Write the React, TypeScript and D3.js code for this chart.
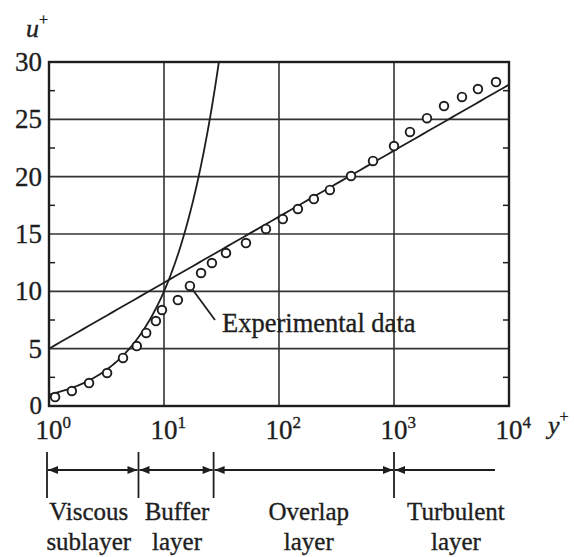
import React from 'react';
import * as d3 from 'd3';

// ---- data ----
const yPlusData = [1.13, 1.58, 2.23, 3.2, 4.4, 5.8, 7.0, 8.5, 9.6, 13.2, 16.8, 21, 26.1, 34.6, 51.6, 77, 108, 146, 201, 277, 423, 657, 1000, 1377, 1936, 2722, 3900, 5370, 7710];
const uPlusData = [0.78, 1.31, 2.0, 2.88, 4.19, 5.23, 6.37, 7.41, 8.37, 9.24, 10.47, 11.6, 12.47, 13.34, 14.21, 15.44, 16.3, 17.18, 18.05, 18.84, 20.06, 21.37, 22.67, 23.9, 25.1, 26.16, 26.95, 27.64, 28.25];
const xTickExponents = [0, 1, 2, 3, 4];
const xGridValues = [10, 100, 1000];
const yTickValues = [0, 5, 10, 15, 20, 25, 30];
const yGridValues = [5, 10, 15, 20, 25];
const yMinorTicks = [2.5, 7.5, 12.5, 17.5, 22.5, 27.5];
const kappa = 0.4;
const logLawB = 5.0;
const viscousMax = 30;
const regionBounds = [1, 6, 27, 1000];
const regionEnd = 7700;
const regionLabels = [
  ['Viscous', 'sublayer'],
  ['Buffer', 'layer'],
  ['Overlap', 'layer'],
  ['Turbulent', 'layer'],
];
const annotatedIndex = 10;
const annotationText = 'Experimental data';

// ---- layout ----
const W = 574, H = 557;
const L = 49, R = 509, T = 62, Bm = 406;
const FONT = '"Liberation Serif", "Times New Roman", serif';
const INK = '#1e1e1e';
const labelOffsets = [-5, 1, 5, 11];
const TS = 0.35; // text stroke to mimic heavier print

export default function App() {
  const x = d3.scaleLog().domain([1, 1e4]).range([L, R]);
  const y = d3.scaleLinear().domain([0, 30]).range([Bm, T]);

  const line = d3.line<[number, number]>().x(d => x(d[0])).y(d => y(d[1]));
  const logs = d3.range(0, 1.0001, 0.01).map(t => Math.pow(viscousMax, t));
  const viscous = line(logs.map(v => [v, v] as [number, number]));
  const logSamples = d3.range(0, 4.0001, 0.05).map(t => Math.pow(10, t));
  const logLaw = line(logSamples.map(v => [v, (1 / kappa) * Math.log(v) + logLawB] as [number, number]));

  const ann = [x(yPlusData[annotatedIndex]), y(uPlusData[annotatedIndex])];

  const arrowY = 470;
  const segs = regionBounds.map((b, i) => [x(b), i < regionBounds.length - 1 ? x(regionBounds[i + 1]) : x(regionEnd)]);
  const ah = 10, aw = 4;

  const textProps = { fill: INK, stroke: INK, strokeWidth: TS };

  return (
    <svg width={W} height={H} style={{ position: 'absolute', left: 0, top: 0, background: '#fff' }} fontFamily={FONT}>
      <rect x={0} y={0} width={W} height={H} fill="#fff" />
      {/* grid */}
      {yGridValues.map(v => (
        <line key={'gy' + v} x1={L} x2={R} y1={y(v)} y2={y(v)} stroke="#333" strokeWidth={1.6} />
      ))}
      {xGridValues.map(v => (
        <line key={'gx' + v} x1={x(v)} x2={x(v)} y1={T} y2={Bm} stroke="#333" strokeWidth={1.6} />
      ))}
      {/* minor ticks */}
      {yMinorTicks.map(v => (
        <g key={'mt' + v}>
          <line x1={L} x2={L + 6} y1={y(v)} y2={y(v)} stroke={INK} strokeWidth={1.5} />
          <line x1={R - 6} x2={R} y1={y(v)} y2={y(v)} stroke={INK} strokeWidth={1.5} />
        </g>
      ))}
      {/* curves */}
      <path d={viscous || ''} fill="none" stroke={INK} strokeWidth={1.8} />
      <path d={logLaw || ''} fill="none" stroke={INK} strokeWidth={1.8} />
      {/* annotation leader */}
      <line x1={ann[0] + 3} y1={ann[1] + 4} x2={215} y2={320} stroke={INK} strokeWidth={1.8} />
      {/* data */}
      {yPlusData.map((v, i) => (
        <circle key={'p' + i} cx={x(v)} cy={y(uPlusData[i])} r={4.3} fill="#fff" stroke={INK} strokeWidth={1.9} />
      ))}
      <text x={222} y={332} fontSize={26.5} {...textProps}>{annotationText}</text>
      {/* frame */}
      <rect x={L} y={T} width={R - L} height={Bm - T} fill="none" stroke={INK} strokeWidth={2.4} />
      {/* y tick labels */}
      {yTickValues.map(v => (
        <text key={'yl' + v} x={42} y={y(v) + (v === 0 ? -1 : 0)} fontSize={v === 0 ? 25 : 27} textAnchor="end" dominantBaseline="central" {...textProps}>{v}</text>
      ))}
      {/* x tick labels */}
      {xTickExponents.map(e => (
        <text key={'xl' + e} x={x(Math.pow(10, e)) - 13.5} y={439} fontSize={27} {...textProps}>
          10<tspan dy={-11} fontSize={17}>{e}</tspan>
        </text>
      ))}
      {/* axis titles */}
      <text x={26} y={37} fontSize={26} fontStyle="italic" {...textProps}>u<tspan dy={-12} fontSize={16} fontStyle="normal">+</tspan></text>
      <text x={548} y={434} fontSize={26} fontStyle="italic" {...textProps}>y<tspan dy={-12} fontSize={16} fontStyle="normal">+</tspan></text>
      {/* region brackets */}
      {regionBounds.map(b => (
        <line key={'rb' + b} x1={x(b) - (b === 1 ? 2 : 0)} x2={x(b) - (b === 1 ? 2 : 0)} y1={452} y2={498} stroke={INK} strokeWidth={1.8} />
      ))}
      {segs.map(([a, b], i) => {
        const a0 = i === 0 ? a - 2 : a;
        const last = i === segs.length - 1;
        return (
          <g key={'seg' + i}>
            <line x1={a0 + 1} x2={b - 1} y1={arrowY} y2={arrowY} stroke={INK} strokeWidth={1.8} />
            <path d={`M${a0 + 1},${arrowY} L${a0 + 1 + ah},${arrowY - aw} L${a0 + 1 + ah},${arrowY + aw} Z`} fill={INK} />
            {!last && <path d={`M${b - 1},${arrowY} L${b - 1 - ah},${arrowY - aw} L${b - 1 - ah},${arrowY + aw} Z`} fill={INK} />}
          </g>
        );
      })}
      {regionLabels.map((lbl, i) => {
        const cx = (segs[i][0] + segs[i][1]) / 2 + labelOffsets[i];
        return (
          <g key={'rl' + i}>
            <text x={cx} y={520} fontSize={25} textAnchor="middle" {...textProps}>{lbl[0]}</text>
            <text x={cx} y={550} fontSize={25} textAnchor="middle" {...textProps}>{lbl[1]}</text>
          </g>
        );
      })}
    </svg>
  );
}
